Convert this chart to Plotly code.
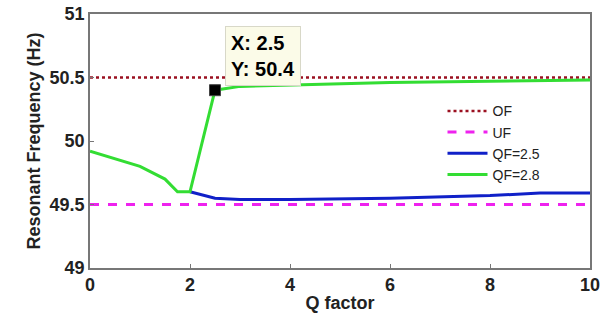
import plotly.graph_objects as go

x_green = [0, 1, 1.5, 1.75, 2, 2.5, 3, 4, 6, 8, 10]
y_green = [49.92, 49.8, 49.7, 49.6, 49.6, 50.4, 50.43, 50.44, 50.46, 50.47, 50.48]
x_blue = [2, 2.5, 3, 4, 6, 8, 9, 10]
y_blue = [49.6, 49.55, 49.54, 49.54, 49.55, 49.57, 49.59, 49.59]
of_level = 50.5
uf_level = 49.5
x_range = [0, 10]
dtip_x, dtip_y = 2.5, 50.4

FONT = "Liberation Sans, Arial"

fig = go.Figure()
fig.add_trace(go.Scatter(x=x_range, y=[of_level]*2, mode="lines", name="OF",
                         line=dict(color="#9b1020", width=2.5, dash="dot")))
fig.add_trace(go.Scatter(x=x_range, y=[uf_level]*2, mode="lines", name="UF",
                         line=dict(color="#ee22ee", width=3, dash="dash")))
fig.add_trace(go.Scatter(x=x_blue, y=y_blue, mode="lines", name="QF=2.5",
                         line=dict(color="#1020c8", width=3)))
fig.add_trace(go.Scatter(x=x_green, y=y_green, mode="lines", name="QF=2.8",
                         line=dict(color="#33dd33", width=3)))
fig.add_trace(go.Scatter(x=[dtip_x], y=[dtip_y], mode="markers", showlegend=False,
                         marker=dict(symbol="square", size=11, color="black",
                                     line=dict(color="#444", width=1))))

fig.add_annotation(x=dtip_x, y=dtip_y, xref="x", yref="y",
                   text=f"X: {dtip_x}<br>Y: {dtip_y}", showarrow=False,
                   xanchor="left", yanchor="bottom", xshift=10, yshift=4,
                   align="left", bgcolor="#fbfbe8", bordercolor="#d8d8c8",
                   borderwidth=1, borderpad=5,
                   font=dict(family=FONT, size=20, color="black", weight="bold"))

axis_common = dict(showline=True, linecolor="#777", linewidth=1.5, mirror=True,
                   ticks="inside", ticklen=4, tickcolor="#777", showgrid=False,
                   zeroline=False, automargin=False,
                   tickfont=dict(family=FONT, size=18, color="#222", weight="bold"))

fig.update_layout(
    width=603, height=325, plot_bgcolor="white", paper_bgcolor="white",
    margin=dict(l=90, r=13, t=14, b=57),
    xaxis=dict(range=x_range, tickvals=[0, 2, 4, 6, 8, 10],
               title=dict(text="Q factor", standoff=2,
                          font=dict(family=FONT, size=18, color="#222", weight="bold")),
               **axis_common),
    yaxis=dict(range=[49, 51], tickvals=[49, 49.5, 50, 50.5, 51],
               title=dict(text="Resonant Frequency (Hz)", standoff=4,
                          font=dict(family=FONT, size=18, color="#222", weight="bold")),
               **axis_common),
    legend=dict(x=0.705, y=0.68, xanchor="left", yanchor="top",
                bgcolor="rgba(255,255,255,0)", tracegroupgap=0,
                font=dict(family=FONT, size=14, color="#222"),
                itemwidth=40),
    showlegend=True,
)

fig.write_html("out.html")
